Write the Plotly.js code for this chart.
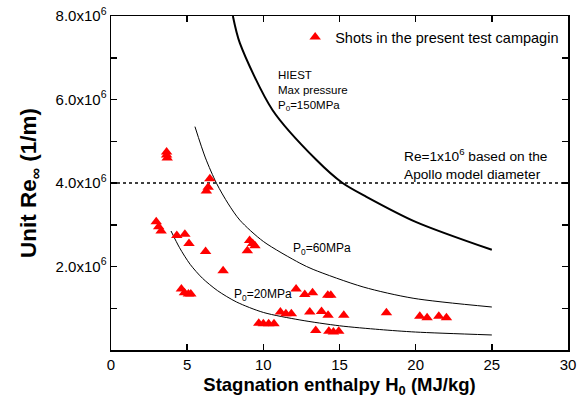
<!DOCTYPE html>
<html><head><meta charset="utf-8">
<script src="https://cdn.plot.ly/plotly-3.0.1.min.js"></script>
<style>html,body{margin:0;padding:0;background:#fff}#c{width:583px;height:409px}</style>
</head><body><div id="c"></div>
<script>
// Shots (H0 in MJ/kg, Unit Re in 1/m)
const shotH = [3.65,3.65,3.69, 6.49,6.38,6.26, 2.97,3.13,3.29, 4.32,4.85,5.12, 6.21,7.36,
  4.62,4.82,5.08,5.24, 9.1,9.3,9.45,8.95, 12.15, 11.12,11.48,11.84, 9.7,10.0,10.35,10.7,
  12.72,13.23, 14.23,14.43, 13.05, 13.82,14.25, 15.28, 13.44, 14.3,14.6,14.95,
  18.08, 20.27,20.75, 21.52,22.02];
const shotRe = [4.74e6,4.67e6,4.60e6, 4.10e6,3.90e6,3.81e6, 3.07e6,2.95e6,2.85e6, 2.74e6,2.77e6,2.55e6, 2.36e6,1.90e6,
  1.46e6,1.37e6,1.34e6,1.34e6, 2.62e6,2.55e6,2.50e6,2.38e6, 1.46e6, 0.91e6,0.87e6,0.87e6, 0.64e6,0.63e6,0.63e6,0.63e6,
  1.33e6,1.37e6, 1.31e6,1.31e6, 0.91e6, 0.92e6,0.83e6, 0.83e6, 0.47e6, 0.45e6,0.43e6,0.45e6,
  0.89e6, 0.81e6,0.77e6, 0.81e6,0.77e6];

// Performance curves
const hiestH  = [8.0, 8.46, 10.6, 13.49, 15.2, 16.77, 20.0, 25.0];
const hiestRe = [8.0e6, 7.35e6, 5.75e6, 4.55e6, 4.0e6, 3.67e6, 3.07e6, 2.40e6];
const p60H  = [5.51, 6.2, 6.93, 7.7, 8.46, 10.0, 12.4, 13.27, 16.55, 19.83, 25.0];
const p60Re = [5.35e6, 4.6e6, 3.99e6, 3.5e6, 3.11e6, 2.6e6, 2.08e6, 1.93e6, 1.51e6, 1.24e6, 1.03e6];
const p20H  = [3.94, 4.5, 5.2, 6.0, 7.0, 8.24, 10.0, 12.4, 15.0, 17.64, 20.0, 25.0];
const p20Re = [2.85e6, 2.45e6, 2.05e6, 1.72e6, 1.42e6, 1.15e6, 0.9e6, 0.72e6, 0.58e6, 0.49e6, 0.43e6, 0.36e6];

const apolloH = [0, 30];
const apolloRe = [4.0e6, 4.0e6];

const xTicks = [0,5,10,15,20,25,30];
const yTicks = [0,1e6,2e6,3e6,4e6,5e6,6e6,7e6,8e6];
const yTickText = ['','','2.0x10<sup>6</sup>','','4.0x10<sup>6</sup>','','6.0x10<sup>6</sup>','','8.0x10<sup>6</sup>'];

const F = 'Liberation Sans, Arial, sans-serif';
const traces = [
  {x: apolloH, y: apolloRe, mode:'lines', line:{color:'#000', width:1.5, dash:'dot'}, showlegend:false, hoverinfo:'skip'},
  {x: hiestH, y: hiestRe, mode:'lines', line:{color:'#000', width:2, shape:'spline', smoothing:0.8}, showlegend:false},
  {x: p60H, y: p60Re, mode:'lines', line:{color:'#000', width:1, shape:'spline', smoothing:0.8}, showlegend:false},
  {x: p20H, y: p20Re, mode:'lines', line:{color:'#000', width:1, shape:'spline', smoothing:0.8}, showlegend:false},
  {x: shotH, y: shotRe, mode:'markers', name:'Shots in the present test campagin',
   marker:{symbol:'triangle-up', color:'#ff0000', size:10}}
];

const axisCommon = {showline:true, linecolor:'#000', linewidth:1.5, mirror:'ticks', ticks:'inside',
  ticklen:6, tickwidth:1.5, tickcolor:'#000', showgrid:false, zeroline:false,
  tickfont:{family:F, size:15, color:'#000'}};

const layout = {
  width:583, height:409,
  margin:{l:111, r:15, t:16, b:59},
  paper_bgcolor:'#fff', plot_bgcolor:'#fff',
  font:{family:F, color:'#000'},
  xaxis: Object.assign({}, axisCommon, {range:[0,30], tickmode:'array', tickvals:xTicks,
    ticktext:xTicks.map(String),
    title:{text:'<b>Stagnation enthalpy H<sub>0</sub> (MJ/kg)</b>', font:{family:F, size:18.5}, standoff:6}}),
  yaxis: Object.assign({}, axisCommon, {range:[0,8e6], tickmode:'array', tickvals:yTicks, ticktext:yTickText,
    title:{text:'<b>Unit Re<sub>∞</sub> (1/m)</b>', font:{family:F, size:22.5}, standoff:12}}),
  showlegend:true,
  legend:{x:0.403, y:0.985, xanchor:'left', yanchor:'top', bgcolor:'rgba(0,0,0,0)',
    font:{family:F, size:14.5, color:'#000'}},
  annotations:[
    {x:10.82, y:6.78e6, xref:'x', yref:'y', xanchor:'left', yanchor:'top', align:'left', showarrow:false,
     text:'HIEST<br>Max pressure<br>P<sub>0</sub>=150MPa', font:{family:F, size:11.5}},
    {x:19.1, y:4.45e6, xref:'x', yref:'y', xanchor:'left', yanchor:'middle', align:'left', showarrow:false,
     text:'Re=1x10<sup>6</sup> based on the<br>Apollo model diameter', font:{family:F, size:13.7}},
    {x:11.8, y:2.42e6, xref:'x', yref:'y', xanchor:'left', yanchor:'middle', showarrow:false,
     text:'P<sub>0</sub>=60MPa', font:{family:F, size:12}},
    {x:7.95, y:1.32e6, xref:'x', yref:'y', xanchor:'left', yanchor:'middle', showarrow:false,
     text:'P<sub>0</sub>=20MPa', font:{family:F, size:12}}
  ]
};
Plotly.newPlot('c', traces, layout, {staticPlot:true, displayModeBar:false});
</script></body></html>
